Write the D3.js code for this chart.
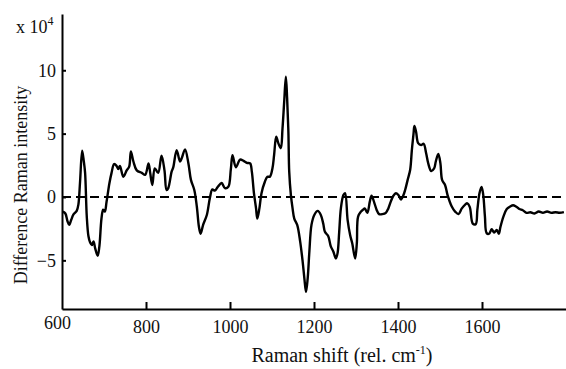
<!DOCTYPE html>
<html>
<head>
<meta charset="utf-8">
<script src="https://cdn.jsdelivr.net/npm/d3@7"></script>
<style>
  html, body { margin: 0; padding: 0; background: #fff; }
  svg { display: block; }
  text { font-family: "Liberation Serif", "Times New Roman", serif; fill: #111; }
</style>
</head>
<body>
<svg id="chart" width="566" height="369"></svg>
<script>
// Raman shift (rel. cm-1)
const shift = [602,608,613,617,622,627,635,639,643,648,652,655,659,663,667,671,675,679,685,689,694,698,702,706,713,718,724,730,734,738,746,754,760,764,770,778,790,798,806,810,815,821,829,837,844,849,853,861,865,873,881,885,893,901,907,915,921,926,930,936,945,952,958,964,972,980,988,996,1002,1006,1014,1024,1032,1040,1048,1052,1057,1062,1065,1070,1075,1083,1089,1095,1101,1105,1110,1115,1121,1125,1129,1133,1136,1139,1141,1145,1149,1153,1160,1167,1173,1177,1181,1185,1189,1194,1201,1209,1216,1222,1226,1234,1240,1246,1252,1256,1260,1264,1270,1274,1280,1286,1291,1298,1302,1305,1312,1317,1321,1327,1333,1337,1344,1349,1355,1363,1371,1377,1383,1389,1395,1401,1407,1413,1417,1423,1429,1433,1437,1439,1443,1448,1455,1461,1467,1472,1479,1486,1490,1496,1501,1505,1512,1518,1528,1536,1544,1552,1560,1565,1571,1578,1585,1589,1594,1599,1603,1607,1611,1617,1623,1629,1635,1640,1644,1651,1659,1667,1674,1681,1689,1697,1706,1715,1725,1735,1745,1755,1765,1775,1785,1795];
// Difference Raman intensity (x 10^4)
const intensity = [-1.15,-1.3,-1.9,-2.2,-1.8,-1.4,-1.1,-0.6,1.2,3.65,2.8,1.9,-1.55,-3.1,-3.6,-3.8,-3.5,-4.05,-4.65,-3.9,-1.7,-1.0,-1.15,-0.4,1.1,1.9,2.6,2.45,2.2,2.45,1.6,2.1,2.4,3.6,2.8,2.1,1.9,1.75,2.65,1.9,0.95,2.25,1.9,3.25,2.1,0.55,0.7,2.0,2.35,3.7,2.8,3.05,3.75,2.65,1.35,0.55,-0.75,-2.35,-2.9,-2.2,-1.4,-0.1,0.6,0.5,0.85,1.1,0.7,0.8,2.2,3.3,2.35,2.95,2.85,2.7,2.65,2.0,0.3,-0.9,-1.7,-0.9,0.3,1.2,1.6,1.6,2.25,3.3,4.75,4.25,3.85,5.4,7.5,9.5,7.8,5.15,2.0,0.15,-0.9,-1.7,-2.2,-3.5,-5.1,-6.4,-7.5,-6.4,-4.3,-2.2,-1.4,-1.1,-1.4,-2.1,-2.75,-3.1,-3.9,-4.3,-4.85,-4.45,-2.75,-0.9,0.15,0.3,-1.8,-3.0,-3.65,-4.85,-3.65,-1.55,-1.15,-1.0,-0.9,-1.25,-0.35,0.1,-0.5,-1.0,-1.35,-1.35,-1.25,-0.9,-0.35,0.1,0.3,0.15,-0.2,0.15,0.55,1.35,2.15,3.7,5.0,5.6,5.15,4.25,4.1,4.2,3.45,2.65,2.05,2.25,2.8,3.4,2.65,1.35,0.95,0.15,-0.75,-1.15,-1.35,-0.9,-0.6,-0.5,-0.8,-2.1,-2.15,-1.0,0.3,0.8,0.15,-1.55,-2.85,-2.9,-2.55,-2.8,-2.6,-2.9,-2.35,-1.55,-0.95,-0.75,-0.65,-0.75,-0.95,-1.05,-1.25,-1.2,-1.3,-1.15,-1.25,-1.15,-1.25,-1.2,-1.25,-1.2];
const xTicks = [600, 800, 1000, 1200, 1400, 1600];
const yTicks = [-5, 0, 5, 10];

const data = shift.map((s, i) => ({ x: s, y: intensity[i] }));

const svg = d3.select("#chart");
const mLeft = 62, mRight = 566, mTop = 14, mBottom = 309;

const x = d3.scaleLinear().domain([600, 1800]).range([mLeft, mRight]);
const y = d3.scaleLinear().domain([-8.84, 14.44]).range([mBottom, mTop]);

// zero reference (dashed)
svg.append("line")
  .attr("x1", mLeft).attr("x2", mRight)
  .attr("y1", y(0)).attr("y2", y(0))
  .attr("stroke", "#000").attr("stroke-width", 2)
  .attr("stroke-dasharray", "9,5");

// spectrum
svg.append("path")
  .datum(data)
  .attr("fill", "none")
  .attr("stroke", "#000")
  .attr("stroke-width", 2.4)
  .attr("stroke-linejoin", "round")
  .attr("d", d3.line().x(d => x(d.x)).y(d => y(d.y)).curve(d3.curveCatmullRom.alpha(0.5)));

// y axis
const gy = svg.append("g")
  .attr("transform", `translate(${mLeft},0)`)
  .call(d3.axisLeft(y).tickValues(yTicks).tickSize(-4).tickSizeOuter(0).tickPadding(6).tickFormat(d3.format("d")));
gy.select(".domain").attr("stroke", "#000").attr("stroke-width", 2);
gy.selectAll(".tick line").attr("stroke", "#000").attr("stroke-width", 2);
gy.selectAll(".tick text").attr("font-size", 18).attr("font-family", "Liberation Serif, Times New Roman, serif").attr("fill", "#111");

// x axis
const gx = svg.append("g")
  .attr("transform", `translate(0,${mBottom})`)
  .call(d3.axisBottom(x).tickValues(xTicks).tickSize(-7).tickSizeOuter(0).tickPadding(11).tickFormat(d3.format("d")));
gx.select(".domain").attr("stroke", "#000").attr("stroke-width", 2);
gx.selectAll(".tick line").attr("stroke", "#000").attr("stroke-width", 2);
gx.selectAll(".tick text").attr("font-size", 18).attr("font-family", "Liberation Serif, Times New Roman, serif").attr("fill", "#111");
gx.selectAll(".tick").filter(d => d === 600).select("line").remove();
gx.selectAll(".tick").filter(d => d === 600).select("text").attr("x", -5).attr("y", 7);

// multiplier label
const mult = svg.append("text").attr("x", 16).attr("y", 33).attr("font-size", 18);
mult.append("tspan").text("x 10");
mult.append("tspan").attr("font-size", 12).attr("dy", -8).text("4");

// axis titles
svg.append("text")
  .attr("transform", `translate(27,${(95 + 275) / 2}) rotate(-90)`)
  .attr("text-anchor", "middle")
  .attr("font-size", 18)
  .text("Difference Raman intensity");

const xt = svg.append("text")
  .attr("x", 342).attr("y", 362)
  .attr("text-anchor", "middle")
  .attr("font-size", 20);
xt.append("tspan").text("Raman shift (rel. cm");
xt.append("tspan").attr("font-size", 12).attr("dy", -8).text("-1");
xt.append("tspan").attr("dy", 8).text(")");
</script>
</body>
</html>
